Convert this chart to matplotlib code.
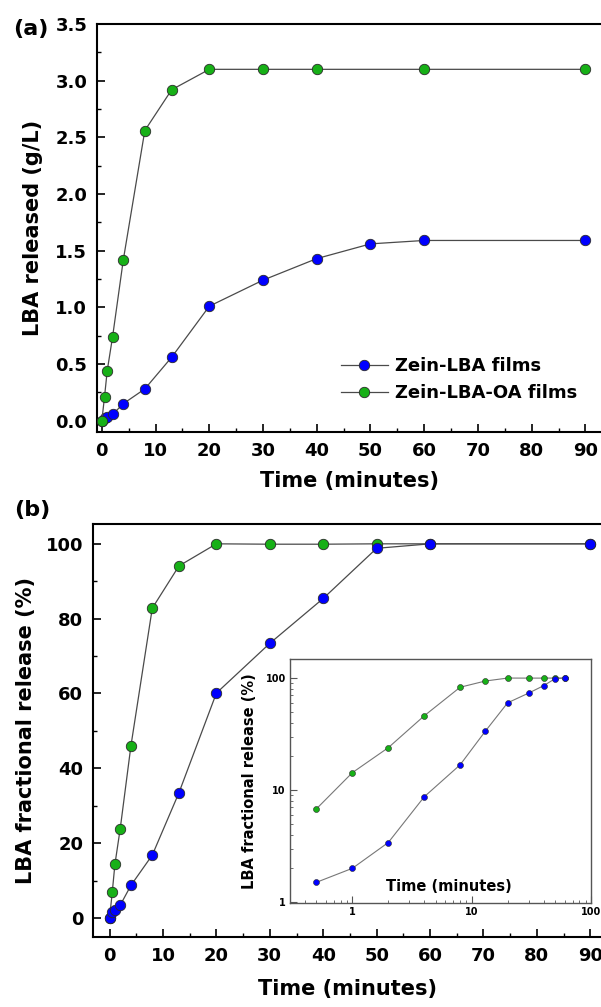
import numpy as np
import matplotlib
matplotlib.use('Agg')
import matplotlib.pyplot as plt
from matplotlib.ticker import MultipleLocator, FixedLocator, FuncFormatter, LogLocator, NullFormatter

plt.rcParams['font.family'] = ['DejaVu Sans']
plt.rcParams['font.weight'] = 'bold'

# panel (a): released concentration (g/L)
t_a_blue = [0, 0.5, 1, 2, 4, 8, 13, 20, 30, 40, 50, 60, 90]
lba_a = [0.0, 0.024, 0.032, 0.055, 0.15, 0.28, 0.56, 1.01, 1.24, 1.43, 1.56, 1.59, 1.59]
t_a_green = [0, 0.5, 1, 2, 4, 8, 13, 20, 30, 40, 60, 90]
oa_a = [0.0, 0.21, 0.44, 0.74, 1.42, 2.56, 2.92, 3.10, 3.10, 3.10, 3.10, 3.10]

# panel (b): fractional release (%)
t_b = [0, 0.5, 1, 2, 4, 8, 13, 20, 30, 40, 50, 60, 90]
frac_blue = [0, 1.5, 2.0, 3.4, 8.7, 16.8, 33.5, 60.1, 73.4, 85.4, 98.8, 100, 100]
frac_green = [0, 6.8, 14.3, 23.9, 46.0, 82.8, 94.1, 100, 99.9, 99.9, 100, 100, 100]

labels = ['Zein-LBA films', 'Zein-LBA-OA films']
c_blue = '#0000ff'
c_green = '#17b017'
c_line = '#4a4a4a'
c_edge = '#2a2a2a'

fig = plt.figure(figsize=(6.01, 10.07), dpi=100)

def style_main(ax):
    for s in ['left', 'bottom', 'top']:
        ax.spines[s].set_linewidth(1.5)
    ax.spines['right'].set_visible(False)
    ax.tick_params(which='major', direction='in', length=6, width=1.2, labelsize=13, pad=7)
    ax.tick_params(which='minor', direction='in', length=3, width=1.0)
    ax.tick_params(top=False, right=False)
    for lab in ax.get_xticklabels() + ax.get_yticklabels():
        lab.set_fontweight('bold')

# ---- (a)
ax1 = fig.add_axes([97/601, 1-432/1007, (601-97)/601, (432-24)/1007])
ax1.plot(t_a_blue, lba_a, '-o', color=c_line, lw=0.9, ms=7.5, mfc=c_blue, mec=c_edge, mew=0.6,
         label=labels[0], zorder=3)
ax1.plot(t_a_green, oa_a, '-o', color=c_line, lw=0.9, ms=7.5, mfc=c_green, mec=c_edge, mew=0.6,
         label=labels[1], zorder=4)
ax1.set_xlim(-0.9, 92.9)
ax1.set_ylim(-0.1, 3.5)
ax1.xaxis.set_major_locator(MultipleLocator(10))
ax1.xaxis.set_minor_locator(MultipleLocator(5))
ax1.yaxis.set_major_locator(MultipleLocator(0.5))
ax1.yaxis.set_minor_locator(MultipleLocator(0.25))
ax1.yaxis.set_major_formatter(FuncFormatter(lambda v, p: '%.1f' % v))
style_main(ax1)
ax1.set_xlabel('Time (minutes)', fontsize=15, fontweight='bold', labelpad=8)
ax1.set_ylabel('LBA released (g/L)', fontsize=15, fontweight='bold', labelpad=9)
ax1.legend(loc='upper left', bbox_to_anchor=(341/601, 1-357/1007), bbox_transform=fig.transFigure,
           frameon=False, handlelength=2.6, handletextpad=0.4, labelspacing=0.5,
           borderpad=0, borderaxespad=0, prop={'weight': 'bold', 'size': 13})
fig.text(31/601, 1-29/1007, '(a)', fontsize=16, fontweight='bold', ha='center', va='center')

# ---- (b)
ax2 = fig.add_axes([93/601, 1-937/1007, (601-93)/601, (937-524)/1007])
ax2.plot(t_b, frac_green, '-o', color=c_line, lw=0.9, ms=7.5, mfc=c_green, mec=c_edge, mew=0.6, zorder=3)
ax2.plot(t_b, frac_blue, '-o', color=c_line, lw=0.9, ms=7.5, mfc=c_blue, mec=c_edge, mew=0.6, zorder=4)
ax2.set_xlim(-3.1, 92.0)
ax2.set_ylim(-5.1, 105.3)
ax2.xaxis.set_major_locator(MultipleLocator(10))
ax2.xaxis.set_minor_locator(MultipleLocator(5))
ax2.yaxis.set_major_locator(MultipleLocator(20))
ax2.yaxis.set_minor_locator(MultipleLocator(10))
style_main(ax2)
ax2.set_xlabel('Time (minutes)', fontsize=15, fontweight='bold', labelpad=10)
ax2.set_ylabel('LBA fractional release (%)', fontsize=15, fontweight='bold', labelpad=7)
fig.text(32/601, 1-510/1007, '(b)', fontsize=16, fontweight='bold', ha='center', va='center')

# ---- inset (log-log), same data without t=0 and t=90
t_in = t_b[1:-1]
ax3 = fig.add_axes([290/601, 1-903/1007, (591-290)/601, (903-659)/1007])
ax3.plot(t_in, frac_green[1:-1], '-o', color='#777777', lw=0.8, ms=4.3, mfc=c_green, mec=c_edge, mew=0.4, zorder=3)
ax3.plot(t_in, frac_blue[1:-1], '-o', color='#777777', lw=0.8, ms=4.3, mfc=c_blue, mec=c_edge, mew=0.4, zorder=4)
ax3.set_xscale('log')
ax3.set_yscale('log')
ax3.set_xlim(0.3, 100)
ax3.set_ylim(0.98, 148)
ax3.xaxis.set_major_locator(FixedLocator([1, 10, 100]))
ax3.yaxis.set_major_locator(FixedLocator([1, 10, 100]))
ax3.xaxis.set_minor_locator(LogLocator(base=10, subs=np.arange(2, 10)))
ax3.yaxis.set_minor_locator(LogLocator(base=10, subs=np.arange(2, 10)))
ax3.xaxis.set_minor_formatter(NullFormatter())
ax3.yaxis.set_minor_formatter(NullFormatter())
fmt = FuncFormatter(lambda v, p: '%d' % v)
ax3.xaxis.set_major_formatter(fmt)
ax3.yaxis.set_major_formatter(fmt)
for s in ax3.spines.values():
    s.set_linewidth(1.0)
    s.set_color('#555555')
ax3.tick_params(which='major', direction='in', length=5, width=0.8, labelsize=7, pad=3, color='#555555')
ax3.tick_params(which='minor', direction='in', length=2.5, width=0.6, color='#555555')
for lab in ax3.get_xticklabels() + ax3.get_yticklabels():
    lab.set_fontweight('bold')
ax3.set_ylabel('LBA fractional release (%)', fontsize=10.5, fontweight='bold', labelpad=6)
ax3.text(0.527, 0.066, 'Time (minutes)', transform=ax3.transAxes, fontsize=10.5, fontweight='bold',
         ha='center', va='center')

fig.savefig('out.png', dpi=100)
